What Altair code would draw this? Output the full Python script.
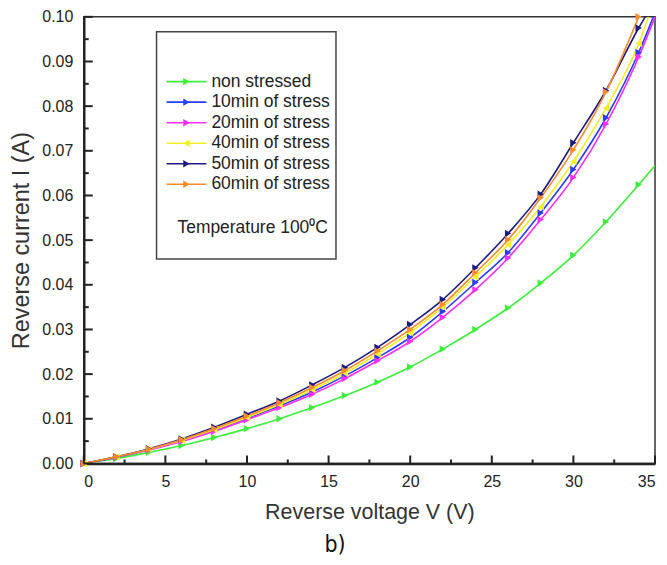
import altair as alt
import pandas as pd

# ---------------- data ----------------
voltage = [0, 2, 4, 6, 8, 10, 12, 14, 16, 18, 20, 22, 24, 26, 28, 30, 32, 34]

series_names = ["non stressed", "10min of stress", "20min of stress",
                "40min of stress", "50min of stress", "60min of stress"]
series_colors = ["#3bee3b", "#2a3cff", "#ff2bff", "#f0f024", "#1c1c80", "#ff8a2c"]
series_shapes = ["triangle-right", "triangle-right", "triangle-right",
                 "triangle-left", "triangle-right", "triangle-right"]

non_stressed = [0, 0.0011, 0.0025, 0.0040, 0.0058, 0.0078, 0.0100, 0.0125, 0.0152,
                0.0182, 0.0216, 0.0256, 0.0300, 0.0348, 0.0404, 0.0466, 0.0541, 0.0624]
stress_10 = [0, 0.0014, 0.0031, 0.0051, 0.0074, 0.0101, 0.0129, 0.0160, 0.0196,
             0.0237, 0.0282, 0.0340, 0.0405, 0.0472, 0.0561, 0.0658, 0.0774, 0.0920]
stress_20 = [0, 0.0014, 0.0030, 0.0049, 0.0072, 0.0098, 0.0125, 0.0155, 0.0190,
             0.0230, 0.0273, 0.0327, 0.0389, 0.0460, 0.0546, 0.0640, 0.0760, 0.0910]
stress_40 = [0, 0.0015, 0.0032, 0.0052, 0.0076, 0.0103, 0.0132, 0.0165, 0.0202,
             0.0245, 0.0293, 0.0350, 0.0418, 0.0490, 0.0575, 0.0676, 0.0796, 0.0940]
stress_50 = [0, 0.0015, 0.0033, 0.0055, 0.0081, 0.0110, 0.0140, 0.0176, 0.0215,
             0.0260, 0.0311, 0.0367, 0.0438, 0.0515, 0.0603, 0.0718, 0.0835, 0.0975]
stress_60 = [0, 0.0015, 0.0032, 0.0053, 0.0078, 0.0106, 0.0136, 0.0170, 0.0208,
             0.0252, 0.0300, 0.0356, 0.0427, 0.0501, 0.0595, 0.0702, 0.0832, 0.1000]

# where each curve leaves the frame (line only, no marker)
end_voltage = [35.0, 34.9, 35.0, 34.6, 34.4, None]
end_current = [0.0667, 0.1, 0.1, 0.1, 0.1, None]

x_major = [0, 5, 10, 15, 20, 25, 30, 35]
x_minor = [2.5, 7.5, 12.5, 17.5, 22.5, 27.5, 32.5]
y_major = [0.00, 0.01, 0.02, 0.03, 0.04, 0.05, 0.06, 0.07, 0.08, 0.09, 0.10]
y_minor = [0.005, 0.015, 0.025, 0.035, 0.045, 0.055, 0.065, 0.075, 0.085, 0.095]

# ---------------- tables ----------------
all_series = [non_stressed, stress_10, stress_20, stress_40, stress_50, stress_60]
rows = []
for k, (name, vals) in enumerate(zip(series_names, all_series)):
    for v, i in zip(voltage, vals):
        rows.append({"series": name, "order": k, "V": v, "I": i, "pt": 1})
    if end_voltage[k] is not None:
        rows.append({"series": name, "order": k, "V": end_voltage[k], "I": end_current[k], "pt": 0})
df = pd.DataFrame(rows)

leg = pd.DataFrame({"series": series_names, "idx": list(range(len(series_names)))})

xt = pd.DataFrame({"v": x_major + x_minor, "len": [8] * len(x_major) + [4] * len(x_minor)})
yt = pd.DataFrame({"v": y_major + y_minor, "len": [9] * len(y_major) + [5] * len(y_minor)})

W, H = 573, 448
FONT = "Liberation Sans"

xs = alt.Scale(domain=[0, 35], nice=False, zero=False)
ys = alt.Scale(domain=[0, 0.1], nice=False, zero=False)
cs = alt.Scale(domain=series_names, range=series_colors)
ss = alt.Scale(domain=series_names, range=series_shapes)

x_axis = alt.Axis(values=x_major, format="d", title="Reverse voltage V (V)",
                  ticks=False, tickSize=0, labelPadding=10, grid=False,
                  domainWidth=2.5, domainColor="#222",
                  titlePadding=12, titleFontSize=21.5, titleFontWeight="normal")
y_axis = alt.Axis(values=y_major, format=".2f", title="Reverse current I (A)",
                  ticks=False, tickSize=0, labelPadding=11, grid=False,
                  domainWidth=2.5, domainColor="#222",
                  titlePadding=8, titleFontSize=23.5, titleFontWeight="normal")

lines = alt.Chart(df).mark_line(interpolate="monotone", strokeWidth=1.6, clip=True).encode(
    x=alt.X("V:Q", scale=xs, axis=x_axis),
    y=alt.Y("I:Q", scale=ys, axis=y_axis),
    color=alt.Color("series:N", scale=cs, legend=None),
    detail="series:N",
    order=alt.Order("V:Q"),
)

points = alt.Chart(df).transform_filter("datum.pt == 1").mark_point(
    filled=True, size=55, opacity=1).encode(
    x=alt.X("V:Q", scale=xs),
    y=alt.Y("I:Q", scale=ys),
    color=alt.Color("series:N", scale=cs, legend=None),
    shape=alt.Shape("series:N", scale=ss, legend=None),
)

# inward ticks on bottom and left axes
xticks = alt.Chart(xt).transform_calculate(
    ya=f"{H}", yb=f"{H} - datum.len").mark_rule(color="#222", strokeWidth=2).encode(
    x=alt.X("v:Q", scale=xs),
    y=alt.Y("ya:Q", scale=None),
    y2="yb:Q",
)
yticks = alt.Chart(yt).transform_calculate(
    xa="0", xb="datum.len").mark_rule(color="#222", strokeWidth=2).encode(
    y=alt.Y("v:Q", scale=ys),
    x=alt.X("xa:Q", scale=None),
    x2="xb:Q",
)

# legend box
box = alt.Chart(pd.DataFrame({"a": [0]})).mark_rect(
    fill="white", stroke="#444", strokeWidth=1.5).encode(
    x=alt.value(73), x2=alt.value(253), y=alt.value(15), y2=alt.value(243))

leg_base = alt.Chart(leg).transform_calculate(ly="65 + datum.idx * 20.6")
leg_lines = leg_base.mark_rule(strokeWidth=1.6).encode(
    x=alt.value(83), x2=alt.value(123),
    y=alt.Y("ly:Q", scale=None),
    color=alt.Color("series:N", scale=cs, legend=None),
)
leg_pts = leg_base.mark_point(filled=True, size=55, opacity=1).encode(
    x=alt.value(103),
    y=alt.Y("ly:Q", scale=None),
    color=alt.Color("series:N", scale=cs, legend=None),
    shape=alt.Shape("series:N", scale=ss, legend=None),
)
leg_txt = leg_base.mark_text(align="left", baseline="middle", font=FONT,
                             fontSize=17.5, color="#222").encode(
    x=alt.value(128),
    y=alt.Y("ly:Q", scale=None),
    text="series:N",
)
temp_txt = alt.Chart(pd.DataFrame({"t": ["Temperature 100⁰C"]})).mark_text(
    align="left", baseline="middle", font=FONT, fontSize=17.5, color="#222").encode(
    x=alt.value(94), y=alt.value(212), text="t:N")

caption = alt.Chart(pd.DataFrame({"t": ["b)"]})).mark_text(
    align="center", baseline="middle",
    font="'Liberation Sans Narrow', 'DejaVu Sans Condensed', 'Roboto', sans-serif",
    fontSize=23, color="#111").encode(
    x=alt.value(252), y=alt.value(530), text="t:N")

chart = alt.layer(
    box, leg_lines, leg_pts, leg_txt, temp_txt,
    lines, points, xticks, yticks, caption
).properties(
    width=W, height=H,
    autosize=alt.AutoSizeParams(type="none"),
    padding={"left": 76, "top": 8, "right": 4, "bottom": 96},
).configure_view(
    stroke="#333", strokeWidth=1.5
).configure_axis(
    labelFont=FONT, titleFont=FONT, labelFontSize=16, labelColor="#222",
    titleColor="#333"
)

chart.save("out.html", embed_options={"renderer": "svg", "actions": False})
